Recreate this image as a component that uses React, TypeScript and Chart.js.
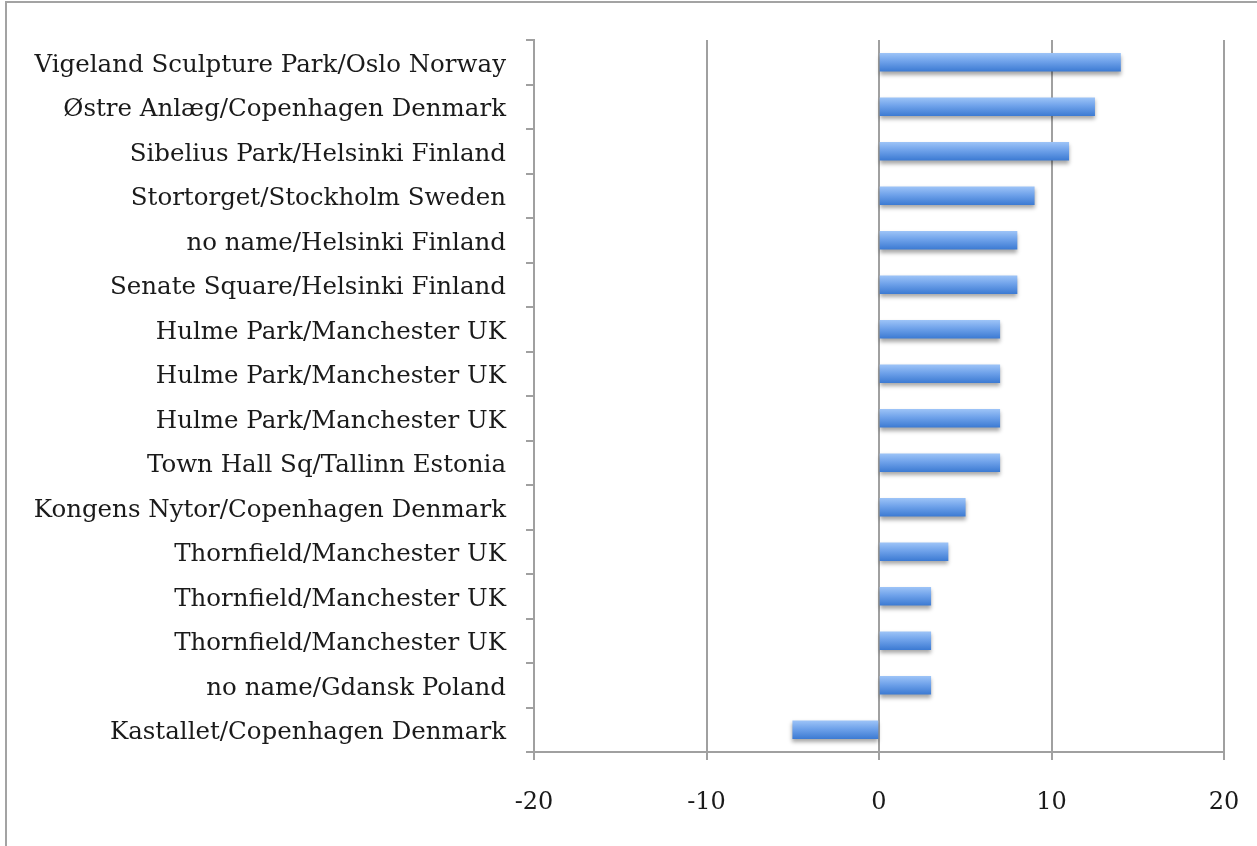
import React, { useEffect, useRef } from "react";
import { Chart, registerables } from "chart.js";

Chart.register(...registerables);

const categories = [
  "Vigeland Sculpture Park/Oslo Norway",
  "Østre Anlæg/Copenhagen Denmark",
  "Sibelius Park/Helsinki Finland",
  "Stortorget/Stockholm Sweden",
  "no name/Helsinki Finland",
  "Senate Square/Helsinki Finland",
  "Hulme Park/Manchester UK",
  "Hulme Park/Manchester UK",
  "Hulme Park/Manchester UK",
  "Town Hall Sq/Tallinn Estonia",
  "Kongens Nytor/Copenhagen Denmark",
  "Thornfield/Manchester UK",
  "Thornfield/Manchester UK",
  "Thornfield/Manchester UK",
  "no name/Gdansk Poland",
  "Kastallet/Copenhagen Denmark",
];
const values = [14, 12.5, 11, 9, 8, 8, 7, 7, 7, 7, 5, 4, 3, 3, 3, -5];
const xMin = -20;
const xMax = 20;
const xStep = 10;

const FONT = "'DejaVu Serif', 'Liberation Serif', serif";

const shadowPlugin = {
  id: "barShadow",
  beforeDatasetsDraw(chart: any) {
    const c = chart.ctx;
    c.save();
    c.shadowColor = "rgba(0,0,0,0.35)";
    c.shadowBlur = 4;
    c.shadowOffsetX = 0;
    c.shadowOffsetY = 3;
  },
  afterDatasetsDraw(chart: any) {
    chart.ctx.restore();
  },
};

export default function App() {
  const ref = useRef<HTMLCanvasElement | null>(null);
  useEffect(() => {
    if (!ref.current) return;
    const chart = new Chart(ref.current, {
      type: "bar",
      data: {
        labels: categories,
        datasets: [
          {
            data: values,
            barThickness: 18,
            borderWidth: 0,
            backgroundColor: (ctx: any) => {
              const ch = ctx.chart;
              const ys = ch.scales && ch.scales.y;
              if (!ys || ctx.dataIndex === undefined) return "#5b93e2";
              const c = ys.getPixelForValue(ctx.dataIndex);
              if (!Number.isFinite(c)) return "#5b93e2";
              const g = ch.ctx.createLinearGradient(0, c - 9, 0, c + 9);
              g.addColorStop(0, "#9cc3f7");
              g.addColorStop(0.45, "#6fa2ea");
              g.addColorStop(1, "#3d7bd3");
              return g;
            },
          },
        ],
      },
      options: {
        indexAxis: "y",
        animation: false,
        responsive: false,
        maintainAspectRatio: false,
        layout: { padding: { left: 0, top: 40, right: 33, bottom: 0 } },
        plugins: {
          legend: { display: false },
          tooltip: { enabled: false },
        },
        scales: {
          x: {
            type: "linear",
            min: xMin,
            max: xMax,
            ticks: {
              stepSize: xStep,
              padding: 28,
              color: "#1a1a1a",
              font: { family: FONT, size: 24 },
              maxRotation: 0,
            },
            grid: {
              color: "#a0a0a0",
              lineWidth: 2,
              drawTicks: true,
              tickLength: 8,
            },
            border: { display: true, color: "#a0a0a0", width: 2 },
            afterFit: (s: any) => {
              s.height = 94;
              s.paddingLeft = 0;
              s.paddingRight = 0;
            },
          },
          y: {
            type: "category",
            ticks: {
              padding: 20,
              labelOffset: 3,
              color: "#1a1a1a",
              font: { family: FONT, size: 24.5 },
              autoSkip: false,
            },
            grid: {
              offset: true,
              drawOnChartArea: false,
              drawTicks: true,
              tickLength: 8,
              color: "#a0a0a0",
              lineWidth: 2,
            },
            border: { display: true, color: "#a0a0a0", width: 2 },
            afterFit: (s: any) => {
              s.width = 534;
              s.paddingTop = 0;
              s.paddingBottom = 0;
            },
          },
        },
      },
      plugins: [shadowPlugin],
    } as any);
    return () => chart.destroy();
  }, []);

  return (
    <div style={{ position: "absolute", left: 0, top: 0, width: 1257, height: 846, background: "#fff", overflow: "hidden" }}>
      <div
        style={{
          position: "absolute",
          left: 5,
          top: 1,
          width: 1300,
          height: 900,
          borderLeft: "2px solid #a3a3a3",
          borderTop: "2px solid #a3a3a3",
        }}
      />
      <canvas ref={ref} width={1257} height={846} style={{ position: "absolute", left: 0, top: 0, width: 1257, height: 846 }} />
    </div>
  );
}
